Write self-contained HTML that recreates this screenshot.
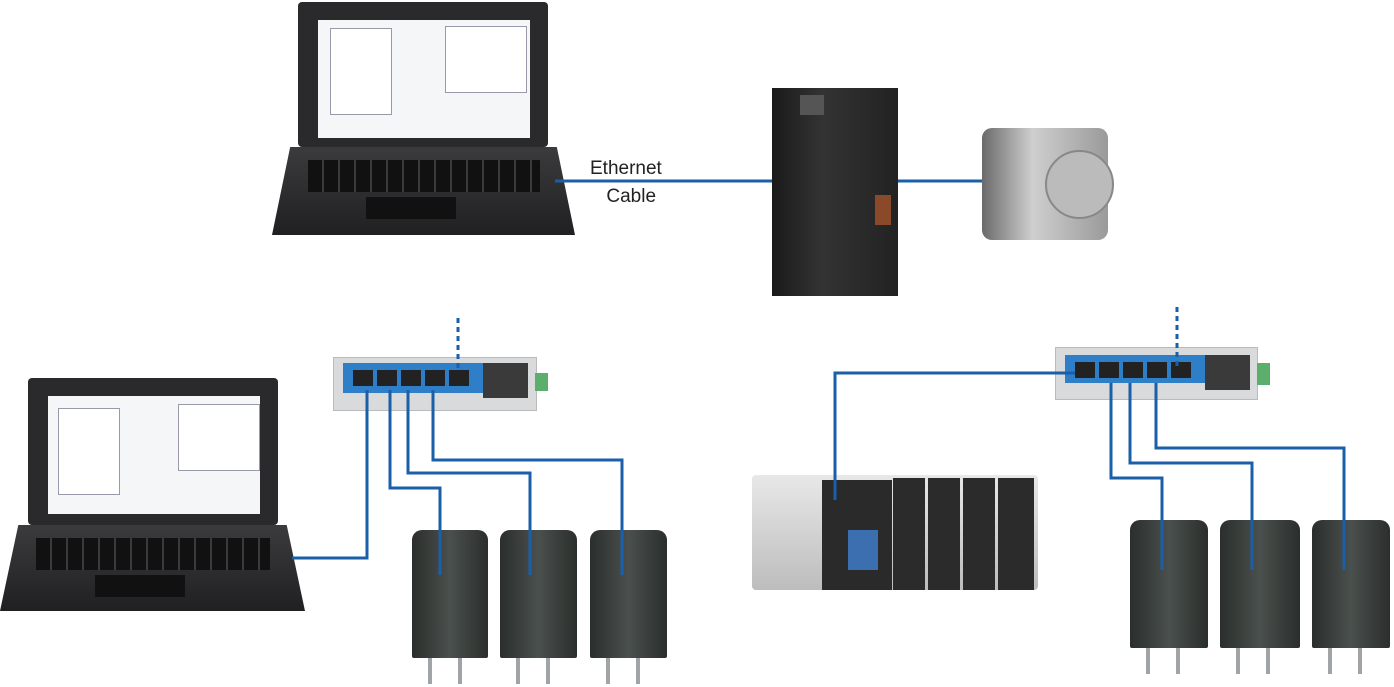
<!DOCTYPE html><html><head><style>
body{margin:0;width:1394px;height:687px;background:#fff;position:relative;overflow:hidden;font-family:"Liberation Sans",sans-serif}
.a{position:absolute}
.scr{background:#2a2a2c;border-radius:4px}
.sc{background:#f4f6f8}
.base{background:linear-gradient(#3b3b3d,#202022);clip-path:polygon(6% 0,94% 0,100% 100%,0 100%)}
.kb{background:repeating-linear-gradient(90deg,#111 0 14px,#3a3a3a 14px 16px)}
.mot{background:linear-gradient(90deg,#2a2e2c,#4a504d 50%,#2a2e2c);border-radius:10px 10px 2px 2px}
.sw{background:#d8dadb;border:1px solid #bbb}
</style></head><body>
<!-- top laptop -->
<div class="a scr" style="left:298px;top:2px;width:250px;height:145px"></div>
<div class="a sc" style="left:318px;top:20px;width:212px;height:118px"></div>
<div class="a" style="left:330px;top:28px;width:60px;height:85px;background:#fff;border:1px solid #99a"></div>
<div class="a" style="left:445px;top:26px;width:80px;height:65px;background:#fff;border:1px solid #99a"></div>
<div class="a base" style="left:272px;top:147px;width:303px;height:88px"></div>
<div class="a kb" style="left:308px;top:160px;width:232px;height:32px"></div>
<div class="a" style="left:366px;top:197px;width:90px;height:22px;background:#111"></div>
<!-- bottom laptop -->
<div class="a scr" style="left:28px;top:378px;width:250px;height:147px"></div>
<div class="a sc" style="left:48px;top:396px;width:212px;height:118px"></div>
<div class="a" style="left:58px;top:408px;width:60px;height:85px;background:#fff;border:1px solid #99a"></div>
<div class="a" style="left:178px;top:404px;width:80px;height:65px;background:#fff;border:1px solid #99a"></div>
<div class="a base" style="left:0;top:525px;width:305px;height:86px"></div>
<div class="a kb" style="left:36px;top:538px;width:234px;height:32px"></div>
<div class="a" style="left:95px;top:575px;width:90px;height:22px;background:#111"></div>
<!-- drive -->
<div class="a" style="left:772px;top:88px;width:126px;height:208px;background:linear-gradient(90deg,#1a1a1a,#333 40%,#222)"></div>
<div class="a" style="left:800px;top:95px;width:24px;height:20px;background:#555"></div>
<div class="a" style="left:875px;top:195px;width:16px;height:30px;background:#8a4a2a"></div>
<!-- stepper motor -->
<div class="a" style="left:982px;top:128px;width:126px;height:112px;background:linear-gradient(90deg,#6a6a6a,#cfcfcf 40%,#9a9a9a);border-radius:10px"></div>
<div class="a" style="left:1045px;top:150px;width:65px;height:65px;background:#bbb;border-radius:50%;border:2px solid #888"></div>
<!-- switches -->
<div class="a sw" style="left:333px;top:357px;width:202px;height:52px"></div>
<div class="a" style="left:343px;top:363px;width:140px;height:30px;background:#2f7fc8"></div>
<div class="a" style="left:483px;top:363px;width:45px;height:35px;background:#3a3a3a"></div>
<div class="a" style="left:353px;top:370px;width:118px;height:16px;background:repeating-linear-gradient(90deg,#222 0 20px,#2f7fc8 20px 24px)"></div>
<div class="a" style="left:535px;top:373px;width:13px;height:18px;background:#5cae6c"></div>
<div class="a sw" style="left:1055px;top:347px;width:201px;height:51px"></div>
<div class="a" style="left:1065px;top:355px;width:140px;height:28px;background:#2f7fc8"></div>
<div class="a" style="left:1205px;top:355px;width:45px;height:35px;background:#3a3a3a"></div>
<div class="a" style="left:1075px;top:362px;width:118px;height:16px;background:repeating-linear-gradient(90deg,#222 0 20px,#2f7fc8 20px 24px)"></div>
<div class="a" style="left:1257px;top:363px;width:13px;height:22px;background:#5cae6c"></div>
<!-- cRIO -->
<div class="a" style="left:752px;top:475px;width:286px;height:115px;background:linear-gradient(#e8e8e8,#bdbdbd);border-radius:4px"></div>
<div class="a" style="left:822px;top:480px;width:70px;height:110px;background:#2a2a2a"></div>
<div class="a" style="left:848px;top:530px;width:30px;height:40px;background:#3b6fb0"></div>
<div class="a" style="left:893px;top:478px;width:32px;height:112px;background:#2b2b2b"></div>
<div class="a" style="left:928px;top:478px;width:32px;height:112px;background:#2b2b2b"></div>
<div class="a" style="left:963px;top:478px;width:32px;height:112px;background:#2b2b2b"></div>
<div class="a" style="left:998px;top:478px;width:36px;height:112px;background:#2b2b2b"></div>
<!-- motors -->
<div class="a mot" style="left:412px;top:530px;width:76px;height:128px"></div>
<div class="a mot" style="left:500px;top:530px;width:77px;height:128px"></div>
<div class="a mot" style="left:590px;top:530px;width:77px;height:128px"></div>
<div class="a mot" style="left:1130px;top:520px;width:78px;height:128px"></div>
<div class="a mot" style="left:1220px;top:520px;width:80px;height:128px"></div>
<div class="a mot" style="left:1312px;top:520px;width:78px;height:128px"></div>
<svg class="a" style="left:0;top:0" width="1394" height="687" fill="none" stroke-width="3">
<g stroke="#a0a4a6" stroke-width="4">
<path d="M430 658v26M460 658v26M518 658v26M548 658v26M608 658v26M638 658v26M1148 648v26M1178 648v26M1238 648v26M1268 648v26M1330 648v26M1360 648v26"/></g>
<g stroke="#1a5fa8">
<path d="M555 181H772M898 181H982"/>
<path d="M292 558H367V390M390 390V488H440V575M408 390V473H530V575M433 390V460H622V575"/>
<path d="M1075 373H835V500M1111 383V478H1162V570M1130 383V463H1252V570M1156 383V448H1344V570"/>
<path d="M458 318V372M1177 307V368" stroke-dasharray="5 4"/>
</g></svg>
<div class="a" style="left:590px;top:155px;font-size:19px;color:#222;text-align:center;line-height:28px">Ethernet<br>&nbsp;&nbsp;Cable</div>
</body></html>
